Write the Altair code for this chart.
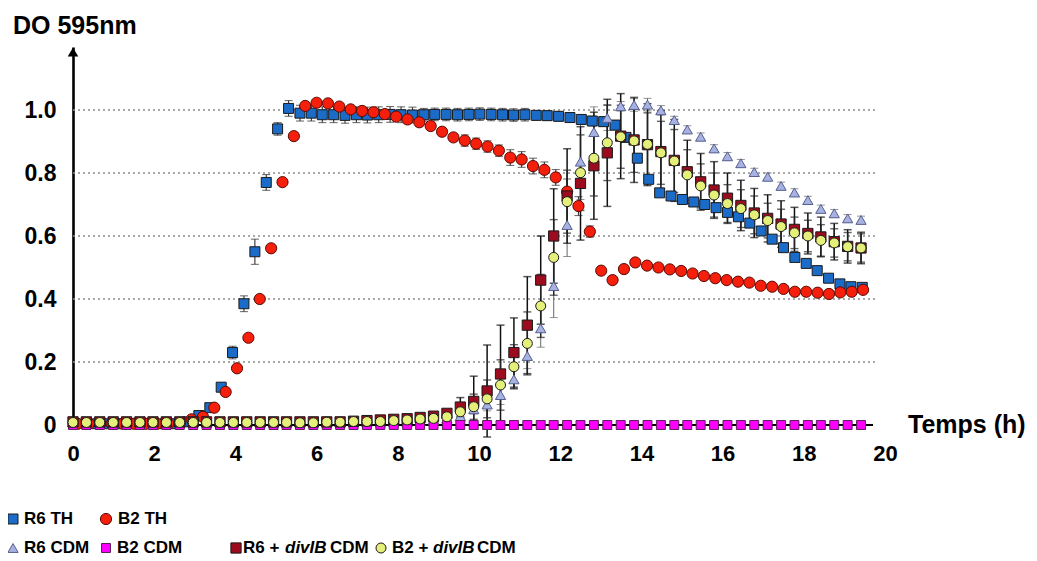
import altair as alt
import pandas as pd

# ---------------- data ----------------
T_R6_TH = [0.05,0.33,0.60,0.88,1.16,1.44,1.71,1.99,2.27,2.54,2.82,3.10,3.37,3.65,3.93,4.21,4.48,4.76,5.04,5.31,
           5.59,5.87,6.14,6.42,6.70,6.98,7.25,7.53,7.81,8.08,8.36,8.64,8.91,9.19,9.47,9.75,10.02,10.30,10.58,10.85,
           11.13,11.41,11.68,11.96,12.24,12.52,12.79,13.07,13.35,13.62,13.90,14.18,14.45,14.73,15.01,15.29,15.56,15.84,16.12,16.39,
           16.67,16.95,17.22,17.50,17.78,18.06,18.33,18.61,18.89,19.16,19.44]
V_R6_TH = [0.004,0.004,0.004,0.004,0.004,0.004,0.004,0.004,0.004,0.004,
           0.01,0.03,0.055,0.12,0.23,0.385,0.55,0.77,0.94,1.005,0.99,0.99,0.985,
           0.985,0.983,0.985,0.984,0.985,0.986,0.985,0.984,0.985,0.986,0.986,0.985,0.986,0.987,0.986,0.985,0.984,0.985,0.983,0.982,
           0.98,0.976,0.97,0.965,0.963,0.952,0.913,0.847,0.78,0.737,0.727,0.716,0.708,0.70,0.69,0.675,0.661,0.641,
           0.616,0.59,0.563,0.532,0.513,0.49,0.466,0.448,0.439,0.437]
E_R6_TH = [0,0,0,0,0,0,0,0,0,0,0,0,0,0,
           0.02,0.025,0.04,0.025,0.02,0.025,
           0.025,0.025,0.025,0.025,0.025,0.025,0.025,0.025,0.025,0.025,0.025,
           0.02,0.02,0.02,0.02,0.02,0.02,0.02,0.02,0.02,0.02,
           0.015,0.015,0.015,0.015,0.015,0.015,0.015,0.015,
           0.01,0.01,0.01,0.01,
           0,0,0,0,0,0,0,0,0,0,0,0,0,0,0,0,0,0]

T_B2_TH = [0.11,0.39,0.67,0.95,1.23,1.51,1.79,2.07,2.35,2.63,2.92,3.20,3.48,3.76,4.04,4.32,4.60,4.88,5.16,5.44,
           5.72,6.00,6.28,6.56,6.84,7.12,7.40,7.68,7.96,8.24,8.53,8.81,9.09,9.37,9.65,9.93,10.21,10.49,10.77,11.05,
           11.33,11.61,11.89,12.17,12.45,12.73,13.01,13.29,13.57,13.85,14.14,14.42,14.70,14.98,15.26,15.54,15.82,16.10,16.38,16.66,
           16.94,17.22,17.50,17.78,18.06,18.34,18.62,18.90,19.18,19.46]
V_B2_TH = [0.004,0.004,0.004,0.004,0.004,0.004,0.004,0.004,0.004,0.004,
           0.018,0.026,0.055,0.105,0.18,0.277,0.40,0.561,0.771,0.917,
           1.013,1.023,1.021,1.011,1.002,0.997,0.993,0.987,0.979,0.97,
           0.961,0.949,0.931,0.913,0.903,0.893,0.884,0.871,0.849,0.843,
           0.822,0.81,0.786,0.741,0.695,0.614,0.49,0.46,0.495,0.516,
           0.506,0.50,0.494,0.489,0.481,0.473,0.466,0.46,0.455,0.452,
           0.442,0.439,0.432,0.423,0.423,0.42,0.416,0.421,0.423,0.429]
E_B2_TH = [0,0,0,0,0,0,0,0,0,0,0,0,0,0,0,0,0,0,0,0,
           0.008,0.008,0.008,0.008,0.008,0.008,0.008,0.008,
           0.012,0.012,0.012,0.012,0.012,0.012,
           0.018,0.018,0.018,0.018,
           0.025,0.025,0.025,0.025,0.025,
           0.04,0.03,0.018,0.01,0.012,0.012,
           0,0,0,0,0,0,0,0,0,0,0,0,0,0,0,0,0,0,0,0,0]

T_CDM = [0,0.33,0.66,0.99,1.32,1.65,1.97,2.30,2.63,2.96,3.29,3.62,3.95,4.28,4.61,4.94,5.26,5.59,5.92,6.25,
         6.58,6.91,7.24,7.57,7.90,8.23,8.55,8.88,9.21,9.54,9.87,10.20,10.53,10.86,11.19,11.52,11.84,12.17,12.50,12.83,
         13.16,13.49,13.82,14.15,14.48,14.81,15.13,15.46,15.79,16.12,16.45,16.78,17.11,17.44,17.77,18.10,18.42,18.75,19.08,19.41]
V_R6_CDM = [0.008,0.008,0.008,0.008,0.008,0.008,0.008,0.008,0.008,0.008,0.008,0.008,0.008,
            0.008,0.008,0.008,0.008,0.008,0.008,0.008,0.008,0.008,0.008,0.008,0.008,0.008,
            0.012,0.015,0.02,0.028,0.05,0.065,0.095,0.145,0.219,0.307,0.441,0.635,0.836,0.93,
            0.975,1.012,1.016,1.017,0.999,0.968,0.938,0.915,0.878,0.853,
            0.831,0.803,0.788,0.759,0.738,0.714,0.686,0.672,0.656,0.651]
E_R6_CDM = [0,0,0,0,0,0,0,0,0,0,0,0,0,0,0,0,0,0,0,0,0,0,0,0,0,0,0,0,0,
            0.01,0.015,0.02,0.03,0.03,0.04,0.06,0.1,0.1,0.12,0.08,0.04,0.015,0.02,0.02,0.015,
            0.012,0.012,0.012,0.012,0.012,0.012,0.012,0.012,0.012,0.012,0.012,0.012,0.012,0.012,0.012]
V_B2_CDM = [0.0,0.0,0.0,0.0,0.0,0.0,0.0,0.0,0.0,0.0,0.0,0.0,0.0,0.0,0.0,0.0,0.0,0.0,0.0,0.0,
            0.0,0.0,0.0,0.0,0.0,0.0,0.0,0.0,0.0,0.0,0.0,0.0,0.0,0.0,0.0,0.0,0.0,0.0,0.0,0.0,
            0.0,0.0,0.0,0.0,0.0,0.0,0.0,0.0,0.0,0.0,0.0,0.0,0.0,0.0,0.0,0.0,0.0,0.0,0.0,0.0]
E_B2_CDM = [0,0,0,0,0,0,0,0,0,0,0,0,0,0,0,0,0,0,0,0,0,0,0,0,0,0,0,0,0,0,
            0,0,0,0,0,0,0,0,0,0,0,0,0,0,0,0,0,0,0,0,0,0,0,0,0,0,0,0,0,0]
V_R6_DIVIB = [0.01,0.01,0.01,0.01,0.01,0.01,0.01,0.01,0.01,0.01,0.01,0.01,0.01,0.01,0.01,0.01,0.01,0.01,0.01,0.01,0.01,
              0.012,0.014,0.016,0.018,0.02,0.024,0.028,0.037,0.057,
              0.075,0.108,0.162,0.23,0.317,0.46,0.60,0.727,0.767,0.823,
              0.864,0.917,0.905,0.89,0.868,0.84,0.804,0.772,0.746,0.72,
              0.697,0.673,0.656,0.638,0.621,0.608,0.597,0.582,0.567,0.562]
E_R6_DIVIB = [0,0,0,0,0,0,0,0,0,0,0,0,0,0,0,0,0,0,0,0,0,0,0,0,0,0,0,0,0,
              0.03,0.08,0.146,0.155,0.11,0.154,0.14,0.15,0.15,0.18,0.17,0.17,0.135,0.135,0.13,0.13,0.13,
              0.1,0.09,0.09,0.08,0.08,0.078,0.075,0.074,0.07,0.065,0.063,0.058,0.053,0.05]
V_B2_DIVIB = [0.008,0.008,0.008,0.008,0.008,0.008,0.008,0.008,0.008,0.008,0.008,0.008,0.008,0.008,0.008,0.008,0.008,
              0.007,0.007,0.009,0.009,0.011,0.011,0.011,0.014,0.016,0.019,0.021,0.026,0.042,
              0.058,0.083,0.127,0.185,0.259,0.378,0.532,0.709,0.801,0.847,
              0.896,0.915,0.902,0.891,0.864,0.838,0.794,0.759,0.73,0.703,
              0.687,0.667,0.649,0.63,0.61,0.60,0.586,0.578,0.566,0.562]
E_B2_DIVIB = [0,0,0,0,0,0,0,0,0,0,0,0,0,0,0,0,0,0,0,0,0,0,0,0,0,0,0,0,0,
              0.02,0.04,0.06,0.08,0.07,0.1,0.1,0.12,0.1,0.12,0.12,0.12,0.1,0.1,0.1,0.1,0.1,
              0.08,0.07,0.07,0.06,0.06,0.06,0.055,0.055,0.05,0.05,0.05,0.045,0.045,0.045]

X_TICKS = [0, 2, 4, 6, 8, 10, 12, 14, 16, 18, 20]
Y_TICKS = [0, 0.2, 0.4, 0.6, 0.8, 1.0]
GRID_Y = [0.2, 0.4, 0.6, 0.8, 1.0]

# ---------------- styling ----------------
FONT = "Liberation Sans, Arial, sans-serif"

STYLE = {
    "R6 CDM":  dict(shape="triangle-up", fill="#a7b1e2", stroke="#56608e", size=105, bar="#666666", bw=1.0),
    "B2 CDM":  dict(shape="square", fill="#ff00ff", stroke="#5a1f5a", size=80, bar="#333333", bw=1.0),
    "R6 + divIB CDM": dict(shape="square", fill="#9c0b1e", stroke="#1a1a1a", size=105, bar="#111111", bw=1.5),
    "B2 + divIB CDM": dict(shape="circle", fill="#e5f07a", stroke="#1a1a1a", size=100, bar="#222222", bw=1.4),
    "R6 TH":   dict(shape="square", fill="#1b6cc8", stroke="#1a1a1a", size=100, bar="#333333", bw=1.1),
    "B2 TH":   dict(shape="circle", fill="#f51f0c", stroke="#5a0a05", size=125, bar="#333333", bw=1.1),
}

# drawing order: growth in TH first, CDM series on top
SERIES = [
    ("R6 TH", T_R6_TH, V_R6_TH, E_R6_TH),
    ("B2 TH", T_B2_TH, V_B2_TH, E_B2_TH),
    ("R6 CDM", T_CDM, V_R6_CDM, E_R6_CDM),
    ("B2 CDM", T_CDM, V_B2_CDM, E_B2_CDM),
    ("R6 + divIB CDM", T_CDM, V_R6_DIVIB, E_R6_DIVIB),
    ("B2 + divIB CDM", T_CDM, V_B2_DIVIB, E_B2_DIVIB),
]

W, H = 812, 378
xs = alt.Scale(domain=[0, 20], nice=False, zero=False)
ys = alt.Scale(domain=[0, 1.2], nice=False, zero=False)
xaxis = alt.Axis(values=X_TICKS, domain=False, ticks=False, grid=False, title=None,
                 labelFont=FONT, labelFontSize=22, labelFontWeight="bold", labelColor="black",
                 labelPadding=18, labelFlush=False, labelOverlap=False)
yaxis = alt.Axis(values=Y_TICKS, domain=True, domainColor="black", domainWidth=2.6, ticks=False,
                 grid=False, title=None,
                 labelExpr="datum.value == 0 ? '0\u00a0' : format(datum.value, '.1f')",
                 labelFont=FONT, labelFontSize=23, labelFontWeight="bold", labelColor="black",
                 labelPadding=17, labelFlush=False, labelOverlap=False)

def X(f):
    return alt.X(f, type="quantitative", scale=xs, axis=xaxis)

def Y(f):
    return alt.Y(f, type="quantitative", scale=ys, axis=yaxis)

ONE = pd.DataFrame({"a": [1]})
layers = []

# dotted grid
grid_df = pd.DataFrame({"g": GRID_Y})
layers.append(alt.Chart(grid_df).mark_rule(color="#8c8c8c", strokeDash=[2, 3], strokeWidth=1.3).encode(
    y=Y("g"), x=alt.value(0), x2=alt.value(805)))

# x axis line
layers.append(alt.Chart(ONE).mark_rule(color="black", strokeWidth=2).encode(
    x=alt.value(-2), x2=alt.value(800), y=alt.value(H)))

# error bars
for name, t, v, e in SERIES:
    st = STYLE[name]
    df = pd.DataFrame({"t": t, "v": v, "err": e})
    df = df[df["err"] > 0].copy()
    df["lo"] = df["v"] - df["err"]
    df["hi"] = df["v"] + df["err"]
    if len(df) == 0:
        continue
    layers.append(alt.Chart(df).mark_rule(color=st["bar"], strokeWidth=st["bw"]).encode(
        x=X("t"), y=Y("lo"), y2="hi"))
    for f in ("lo", "hi"):
        layers.append(alt.Chart(df).mark_tick(orient="horizontal", color=st["bar"], size=8,
                                              thickness=st["bw"]).encode(x=X("t"), y=Y(f)))

# points
for name, t, v, e in SERIES:
    st = STYLE[name]
    df = pd.DataFrame({"t": t, "v": v})
    layers.append(alt.Chart(df).mark_point(shape=st["shape"], filled=True, fill=st["fill"],
                                           stroke=st["stroke"], strokeWidth=1, size=st["size"],
                                           opacity=1).encode(x=X("t"), y=Y("v")))

# y axis arrow head
layers.append(alt.Chart(ONE).mark_point(shape="triangle-up", filled=True, color="black", size=110,
                                        opacity=1).encode(x=alt.value(0), y=alt.value(5)))

def text(s, x, y, size, style="normal", align="left"):
    return alt.Chart(ONE).mark_text(text=s, font=FONT, fontSize=size, fontWeight="bold",
                                    fontStyle=style, align=align, baseline="middle",
                                    color="black").encode(x=alt.value(x), y=alt.value(y))

layers.append(text("DO 595nm", -60, -21, 25))
layers.append(text("Temps (h)", 835, H, 25))

# legend (plot-relative pixel positions)
LEG = [
    ("R6 TH", -60, 472), ("B2 TH", 33, 472),
    ("R6 CDM", -60, 501), ("B2 CDM", 33, 501),
    ("R6 + divIB CDM", 163, 501), ("B2 + divIB CDM", 308, 501),
]
for name, lx, ly in LEG:
    st = STYLE[name]
    layers.append(alt.Chart(ONE).mark_point(shape=st["shape"], filled=True, fill=st["fill"],
                                            stroke=st["stroke"], strokeWidth=1, size=st["size"],
                                            opacity=1).encode(x=alt.value(lx), y=alt.value(ly)))

LS = 17
layers.append(text("R6 TH", -49, 472, LS))
layers.append(text("B2 TH", 45, 472, LS))
layers.append(text("R6 CDM", -49, 501, LS))
layers.append(text("B2 CDM", 44, 501, LS))
layers.append(text("R6 +", 170, 501, LS))
layers.append(text("divIB", 212, 501, LS, style="italic"))
layers.append(text("CDM", 257, 501, LS))
layers.append(text("B2 +", 319, 501, LS))
layers.append(text("divIB", 360, 501, LS, style="italic"))
layers.append(text("CDM", 404, 501, LS))

chart = alt.layer(*layers).properties(
    width=W, height=H,
    autosize=alt.AutoSizeParams(type="none"),
    padding={"left": 65, "top": 39, "right": 143, "bottom": 131},
    background="white",
).configure_view(stroke=None)

chart.save("out.html", embed_options={"renderer": "svg", "actions": False})
